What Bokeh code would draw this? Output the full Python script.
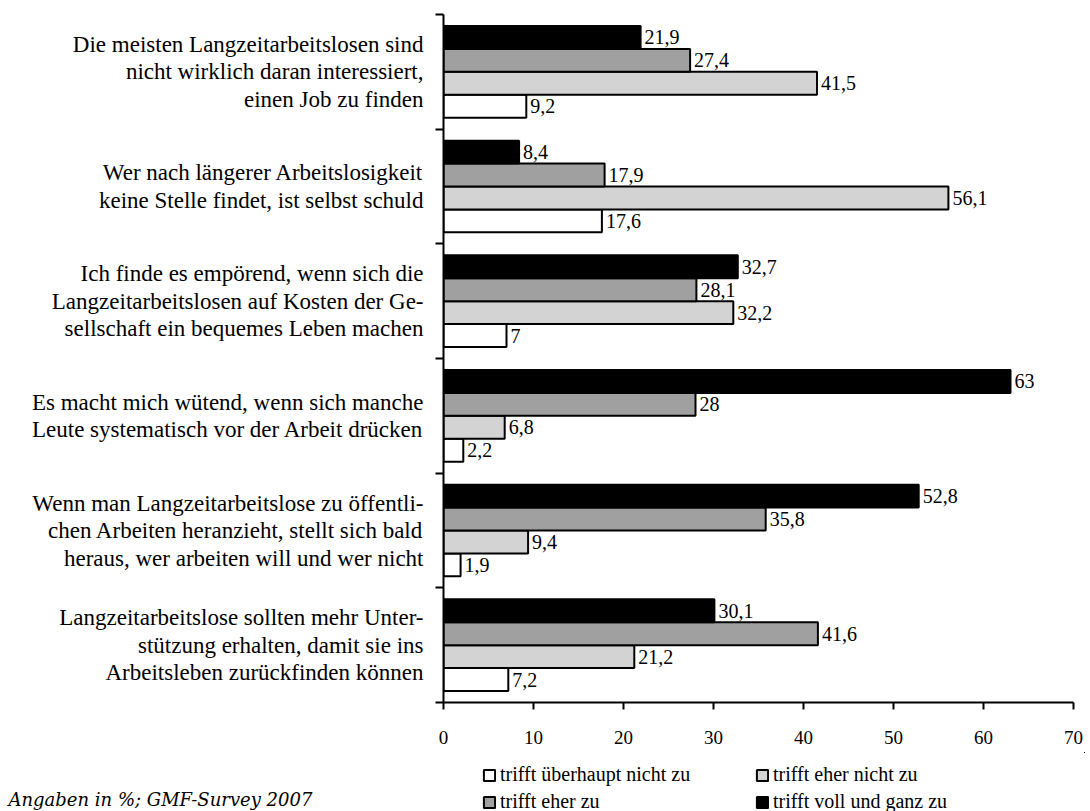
from bokeh.plotting import figure
from bokeh.layouts import column
from bokeh.models import (Range1d, FixedTicker, ColumnDataSource, LabelSet, Legend,
                          LegendItem, Label)
from bokeh.embed import file_html
from bokeh.resources import INLINE

categories = [
    "Die meisten Langzeitarbeitslosen sind\nnicht wirklich daran interessiert,\neinen Job zu finden",
    "Wer nach längerer Arbeitslosigkeit\nkeine Stelle findet, ist selbst schuld",
    "Ich finde es empörend, wenn sich die\nLangzeitarbeitslosen auf Kosten der Ge-\nsellschaft ein bequemes Leben machen",
    "Es macht mich wütend, wenn sich manche\nLeute systematisch vor der Arbeit drücken",
    "Wenn man Langzeitarbeitslose zu öffentli-\nchen Arbeiten heranzieht, stellt sich bald\nheraus, wer arbeiten will und wer nicht",
    "Langzeitarbeitslose sollten mehr Unter-\nstützung erhalten, damit sie ins\nArbeitsleben zurückfinden können",
]
series_names = ["trifft überhaupt nicht zu", "trifft eher nicht zu",
                "trifft eher zu", "trifft voll und ganz zu"]
ueberhaupt_nicht = [9.2, 17.6, 7.0, 2.2, 1.9, 7.2]
eher_nicht = [41.5, 56.1, 32.2, 6.8, 9.4, 21.2]
eher_zu = [27.4, 17.9, 28.1, 28.0, 35.8, 41.6]
voll_und_ganz = [21.9, 8.4, 32.7, 63.0, 52.8, 30.1]
x_ticks = [0, 10, 20, 30, 40, 50, 60, 70]
footnote = "Angaben in %; GMF-Survey 2007"

series_values = [ueberhaupt_nicht, eher_nicht, eher_zu, voll_und_ganz]
colors = ["#ffffff", "#d3d3d3", "#a0a0a0", "#000000"]
offsets = [-0.3, -0.1, 0.1, 0.3]

n = len(categories)
centers = [n - 0.5 - i for i in range(n)]

SERIF = "Liberation Serif"

# ---- main chart ----
p = figure(width=1085, height=752, x_range=Range1d(0, 70),
           y_range=Range1d(0, n), output_backend="svg", toolbar_location=None,
           min_border_left=443, min_border_top=14, min_border_right=12,
           min_border_bottom=50)
p.frame_align = False
p.outline_line_color = None
p.xgrid.visible = False
p.ygrid.visible = False

# ---- legend + footnote strip (its own frame spans the whole strip) ----
q = figure(width=1085, height=59, x_axis_type=None, y_axis_type=None,
           output_backend="svg", toolbar_location=None, min_border=0,
           x_range=Range1d(-200, -100), y_range=Range1d(-200, -100))
q.frame_align = False
q.outline_line_color = None
q.xgrid.visible = False
q.ygrid.visible = False

proxies = {}
for vals, col, off, name in zip(series_values, colors, offsets, series_names):
    src = ColumnDataSource(dict(
        y=[c + off for c in centers],
        right=vals,
        txt=[f"{v:g}".replace(".", ",") for v in vals],
    ))
    p.hbar(y="y", left=0, right="right", height=0.2, source=src,
           fill_color=col, line_color="black", line_width=2)
    p.add_layout(LabelSet(x="right", y="y", text="txt", source=src, x_offset=4,
                          text_baseline="middle", text_align="left",
                          text_font=SERIF, text_font_size="20px",
                          text_color="black", background_fill_color="white"))
    # same series in the strip, outside its visible range: only used as legend keys
    proxies[name] = q.hbar(y="y", left=0, right="right", height=0.2, source=src,
                           fill_color=col, line_color="black", line_width=2)

xa = p.xaxis[0]
xa.ticker = FixedTicker(ticks=x_ticks, minor_ticks=[])
xa.axis_line_width = 2
xa.major_tick_line_width = 2
xa.major_tick_out = 7
xa.major_tick_in = 0
xa.major_label_text_font = SERIF
xa.major_label_text_font_size = "19px"
xa.major_label_text_color = "black"
xa.major_label_standoff = 21

ya = p.yaxis[0]
ya.ticker = FixedTicker(ticks=centers, minor_ticks=list(range(0, n + 1)))
ya.major_label_overrides = {c: t for c, t in zip(centers, categories)}
ya.axis_line_width = 2
ya.major_tick_out = 0
ya.major_tick_in = 0
ya.minor_tick_out = 8
ya.minor_tick_in = 0
ya.minor_tick_line_width = 2
ya.minor_tick_line_color = "black"
ya.major_label_text_font = SERIF
ya.major_label_text_font_size = "23px"
ya.major_label_text_line_height = 1.1
ya.major_label_text_color = "black"
ya.major_label_standoff = 12

order = [series_names[0], series_names[2], series_names[1], series_names[3]]
legend = Legend(items=[LegendItem(label=nm, renderers=[proxies[nm]]) for nm in order],
                ncols=2, location=(482, -2), margin=0, padding=0, spacing=4,
                glyph_width=14, glyph_height=14, label_standoff=4,
                label_width=251, label_height=23,
                label_text_font=SERIF, label_text_font_size="20px",
                label_text_color="black",
                border_line_color=None, background_fill_alpha=0)
q.add_layout(legend, "center")

q.add_layout(Label(x=8, y=12, x_units="screen", y_units="screen", text=footnote,
                   text_font="DejaVu Serif", text_font_style="italic",
                   text_font_size="18px", text_color="black",
                   text_baseline="alphabetic", text_align="left"))

layout = column(p, q, spacing=0)
open("out.html", "w").write(file_html(layout, INLINE))
